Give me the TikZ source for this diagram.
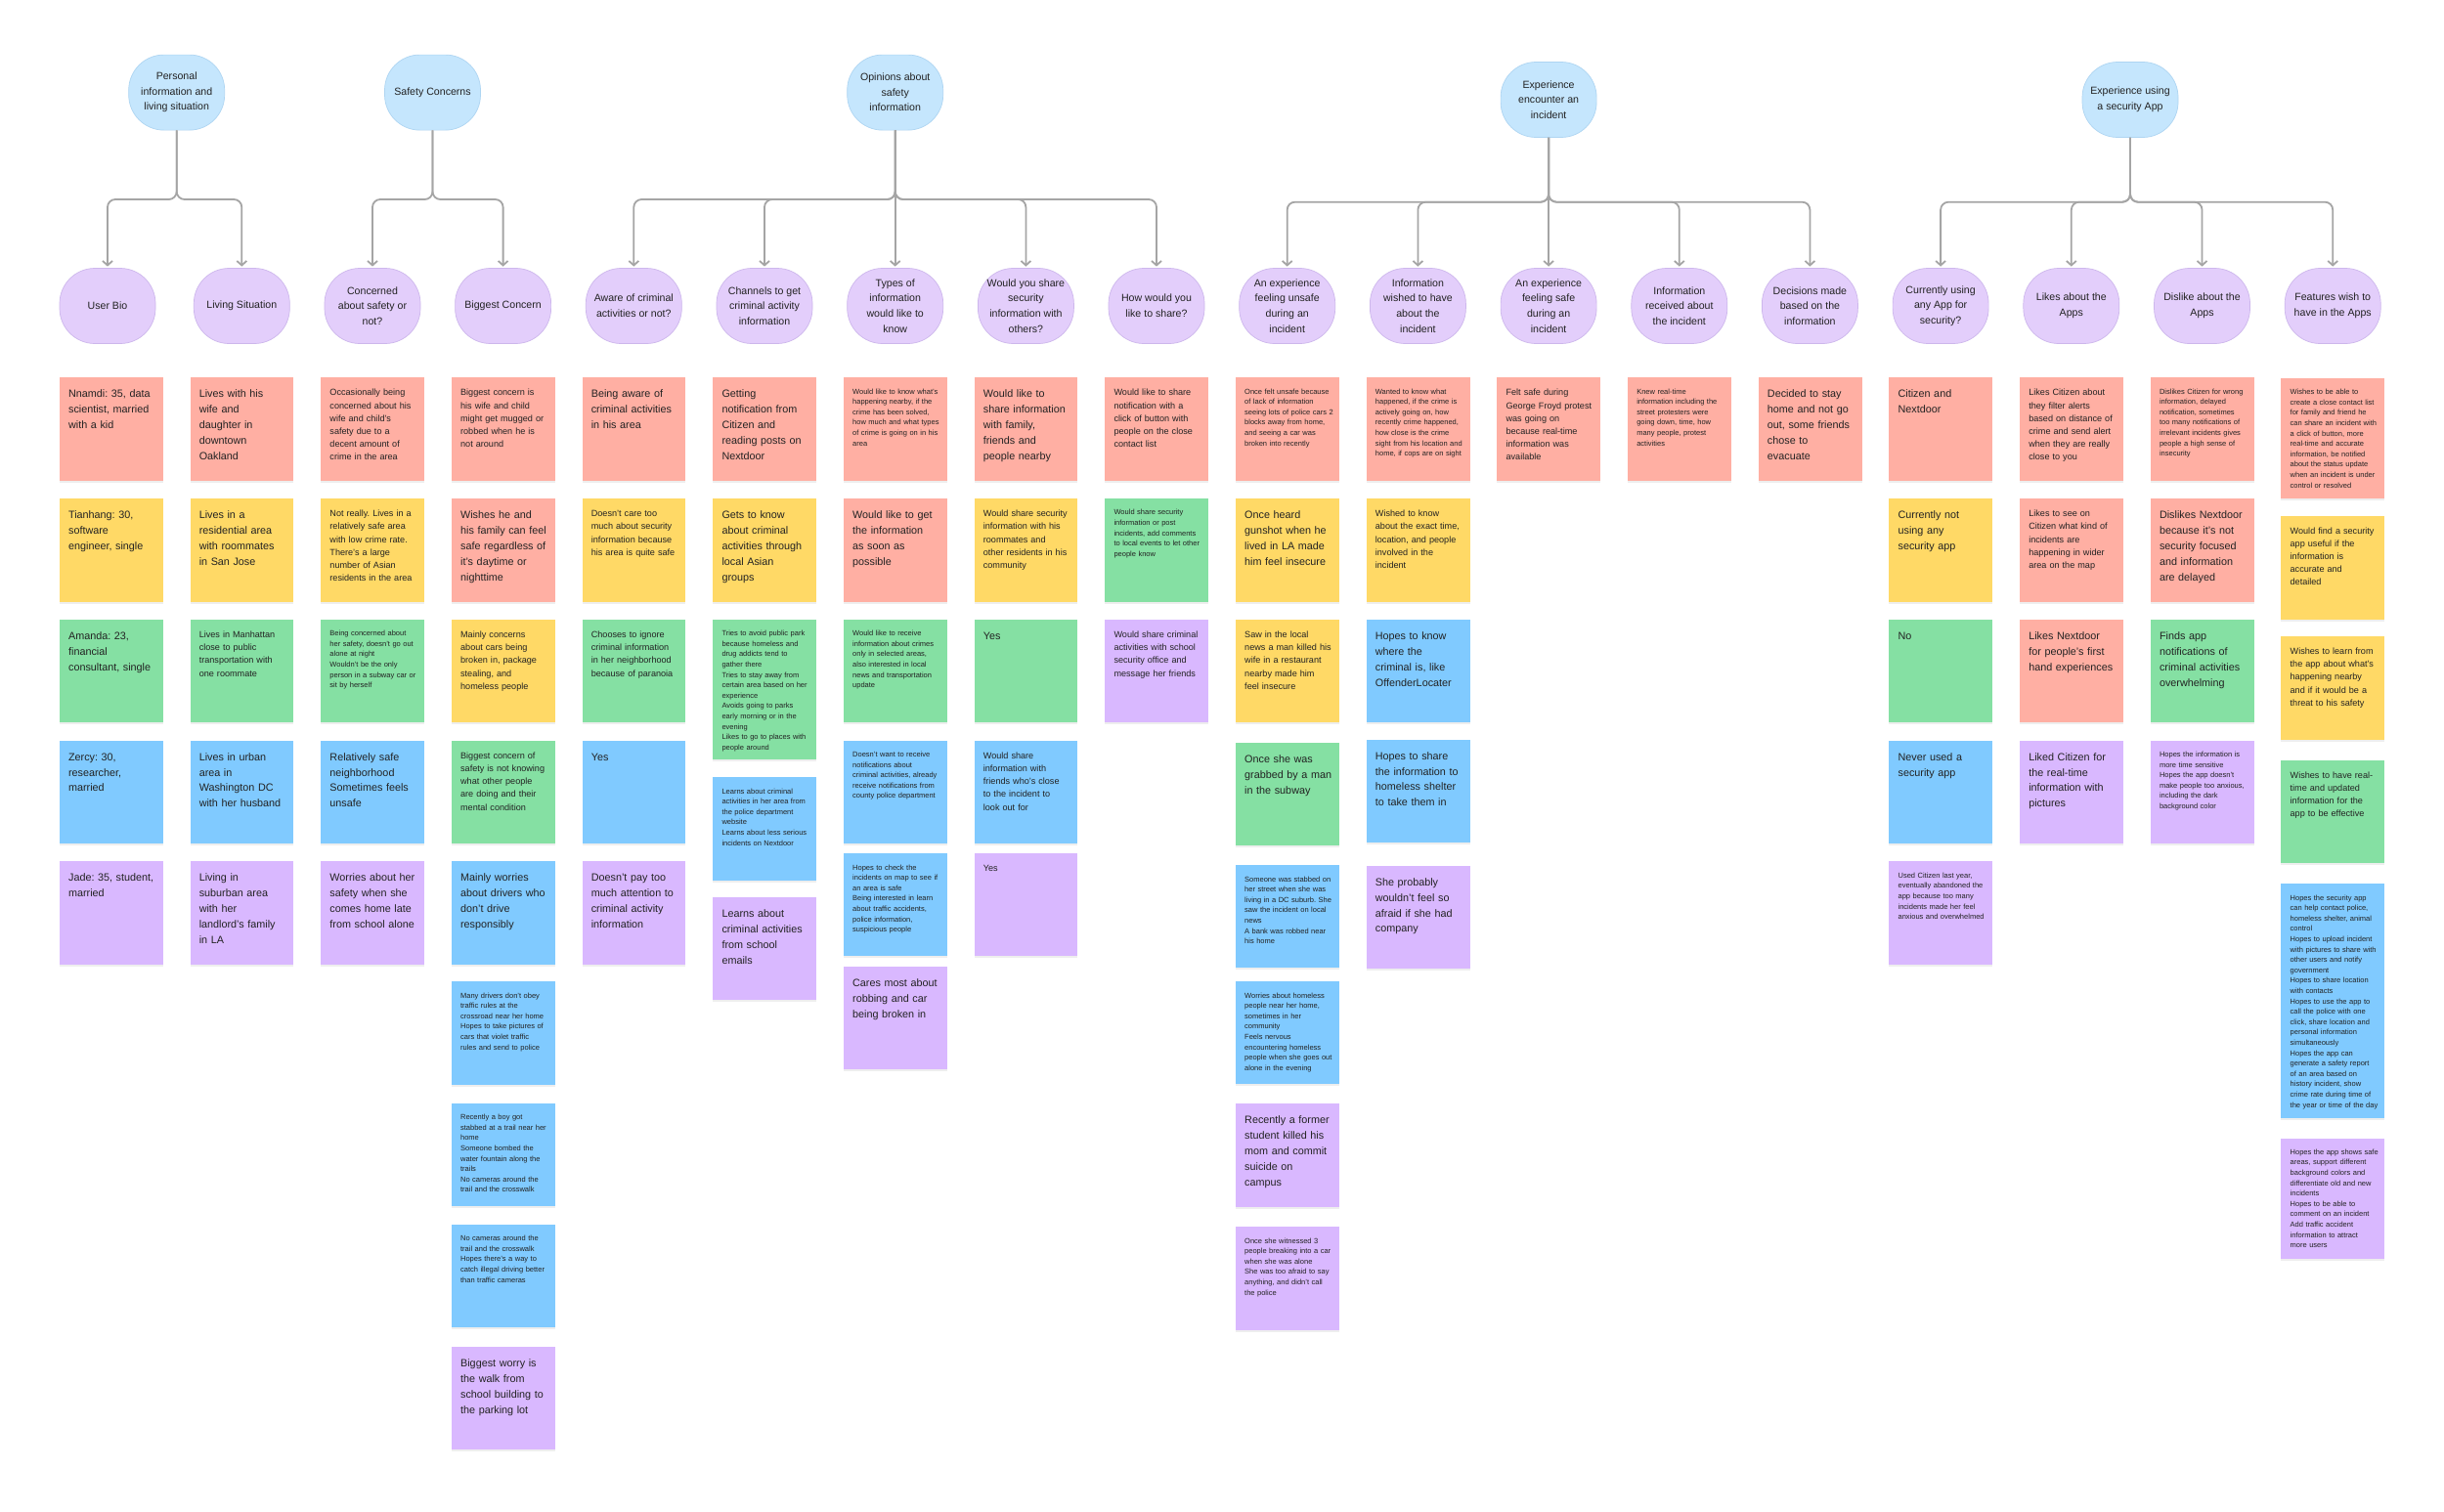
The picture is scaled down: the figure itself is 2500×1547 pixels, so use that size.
\documentclass[tikz,border=0pt]{standalone}
\usepackage{fontspec}
\setmainfont{Liberation Sans}
\frenchspacing
\usetikzlibrary{arrows.meta,shadows,calc}
\definecolor{cR}{HTML}{FFAFA3}
\definecolor{cY}{HTML}{FFD966}
\definecolor{cG}{HTML}{85E0A3}
\definecolor{cB}{HTML}{80CAFF}
\definecolor{cP}{HTML}{D9B8FF}
\definecolor{ovB}{HTML}{C5E6FD}
\definecolor{ovBd}{HTML}{AED5F2}
\definecolor{ovP}{HTML}{E3CEFB}
\definecolor{ovPd}{HTML}{CDB7EC}
\definecolor{ink}{HTML}{222222}
\definecolor{lineC}{HTML}{A5A5A5}
\newcommand\ovfont{\fontsize{10.6}{15.6}\selectfont}
\tikzset{
  sticky/.style={rectangle, anchor=north west, minimum width=105.8pt, inner sep=0pt, draw=none,
    drop shadow={shadow xshift=0pt, shadow yshift=-2pt, opacity=0.13}},
  stBase/.style={anchor=north west, inner sep=0pt, text width=96pt, align=left, text=ink},
  stL/.style={stBase, font=\fontsize{10.8}{15.9}\selectfont},
  stM/.style={stBase, font=\fontsize{9.1}{13.2}\selectfont},
  stS/.style={stBase, font=\fontsize{7.5}{10.6}\selectfont},
  topoval/.style={rectangle, rounded corners=36pt, minimum width=98pt, minimum height=77pt,
    inner sep=0pt, fill=ovB, draw=ovBd, line width=0.7pt, align=center, font=\ovfont, text=ink},
  suboval/.style={topoval, fill=ovP, draw=ovPd},
  conn/.style={draw=lineC, line width=1.8pt, rounded corners=8pt,
    -{Straight Barb[length=4.5pt,width=10pt]}, shorten >=1.5pt},
}
% #1 name, #2 column, #3 top, #4 height, #5 colour, #6 text size style, #7 text
\newcommand\stk[7]{%
  \node[sticky, fill=#5, minimum height=#4] (#1) at ({60.7+(#2-1)*133.68},#3) {};
  \node[#6] (#1t) at ([xshift=9.2pt,yshift=-9.4pt]#1.north west) {\strut #7};
}
\begin{document}
\begin{tikzpicture}[x=1pt,y=-1pt]
\useasboundingbox (0,0) rectangle (2500,1547);
\fill[white] (0,0) rectangle (2500,1547);

% ---------- top level ----------
\node[topoval] (B1) at (180.7,94.6) {Personal\\information and\\living situation};
\node[topoval] (B2) at (442.5,94.6) {Safety Concerns};
\node[topoval] (B3) at (915.7,94.6) {Opinions about\\safety\\information};
\node[topoval] (B4) at (1584.1,102) {Experience\\encounter an\\incident};
\node[topoval] (B5) at (2179,102) {Experience using\\a security App};

% ---------- second level ----------
\node[suboval] (p1) at (110,313) {User Bio};
\node[suboval] (p2) at (247.3,313) {Living Situation};
\node[suboval] (p3) at (381.0,313) {Concerned\\about safety or\\not?};
\node[suboval] (p4) at (514.6,313) {Biggest Concern};
\node[suboval] (p5) at (648.3,313) {Aware of criminal\\activities or not?};
\node[suboval] (p6) at (782.0,313) {Channels to get\\criminal activity\\information};
\node[suboval] (p7) at (915.7,313) {Types of\\information\\would like to\\know};
\node[suboval] (p8) at (1049.4,313) {Would you share\\security\\information with\\others?};
\node[suboval] (p9) at (1183.0,313) {How would you\\like to share?};
\node[suboval] (p10) at (1316.7,313) {An experience\\feeling unsafe\\during an\\incident};
\node[suboval] (p11) at (1450.4,313) {Information\\wished to have\\about the\\incident};
\node[suboval] (p12) at (1584.1,313) {An experience\\feeling safe\\during an\\incident};
\node[suboval] (p13) at (1717.8,313) {Information\\received about\\the incident};
\node[suboval] (p14) at (1851.4,313) {Decisions made\\based on the\\information};
\node[suboval] (p15) at (1985.1,313) {Currently using\\any App for\\security?};
\node[suboval] (p16) at (2118.8,313) {Likes about the\\Apps};
\node[suboval] (p17) at (2252.5,313) {Dislike about the\\Apps};
\node[suboval] (p18) at (2386.2,313) {Features wish to\\have in the Apps};

% ---------- connectors ----------
\coordinate (barA) at (0,204);
\coordinate (barB) at (0,206.7);
\foreach \c in {p1,p2}{\draw[conn] (B1.south) -- (B1.south |- barA) -- (\c.north |- barA) -- (\c.north);}
\foreach \c in {p3,p4}{\draw[conn] (B2.south) -- (B2.south |- barA) -- (\c.north |- barA) -- (\c.north);}
\foreach \c in {p5,p6,p8,p9}{\draw[conn] (B3.south) -- (B3.south |- barA) -- (\c.north |- barA) -- (\c.north);}
\draw[conn] (B3.south) -- (p7.north);
\foreach \c in {p10,p11,p13,p14}{\draw[conn] (B4.south) -- (B4.south |- barB) -- (\c.north |- barB) -- (\c.north);}
\draw[conn] (B4.south) -- (p12.north);
\foreach \c in {p15,p16,p17,p18}{\draw[conn] (B5.south) -- (B5.south |- barB) -- (\c.north |- barB) -- (\c.north);}

% ---------- column 1: User Bio ----------
\stk{s1a}{1}{386}{105.5}{cR}{stL}{Nnamdi: 35, data\\scientist, married\\with a kid}
\stk{s1b}{1}{509.8}{105.5}{cY}{stL}{Tianhang: 30,\\software\\engineer, single}
\stk{s1c}{1}{633.6}{105.5}{cG}{stL}{Amanda: 23,\\financial\\consultant, single}
\stk{s1d}{1}{757.4}{105.5}{cB}{stL}{Zercy: 30,\\researcher,\\married}
\stk{s1e}{1}{881.2}{105.5}{cP}{stL}{Jade: 35, student,\\married}

% ---------- column 2: Living Situation ----------
\stk{s2a}{2}{386}{105.5}{cR}{stL}{Lives with his\\wife and\\daughter in\\downtown\\Oakland}
\stk{s2b}{2}{509.8}{105.5}{cY}{stL}{Lives in a\\residential area\\with roommates\\in San Jose}
\stk{s2c}{2}{633.6}{105.5}{cG}{stM}{Lives in Manhattan\\close to public\\transportation with\\one roommate}
\stk{s2d}{2}{757.4}{105.5}{cB}{stL}{Lives in urban\\area in\\Washington DC\\with her husband}
\stk{s2e}{2}{881.2}{105.5}{cP}{stL}{Living in\\suburban area\\with her\\landlord’s family\\in LA}

% ---------- column 3: Concerned about safety ----------
\stk{s3a}{3}{386}{105.5}{cR}{stM}{Occasionally being\\concerned about his\\wife and child’s\\safety due to a\\decent amount of\\crime in the area}
\stk{s3b}{3}{509.8}{105.5}{cY}{stM}{Not really. Lives in a\\relatively safe area\\with low crime rate.\\There’s a large\\number of Asian\\residents in the area}
\stk{s3c}{3}{633.6}{105.5}{cG}{stS}{Being concerned about\\her safety, doesn’t go out\\alone at night\\Wouldn’t be the only\\person in a subway car or\\sit by herself}
\stk{s3d}{3}{757.4}{105.5}{cB}{stL}{Relatively safe\\neighborhood\\Sometimes feels\\unsafe}
\stk{s3e}{3}{881.2}{105.5}{cP}{stL}{Worries about her\\safety when she\\comes home late\\from school alone}

% ---------- column 4: Biggest Concern ----------
\stk{s4a}{4}{386}{105.5}{cR}{stM}{Biggest concern is\\his wife and child\\might get mugged or\\robbed when he is\\not around}
\stk{s4b}{4}{509.8}{105.5}{cR}{stL}{Wishes he and\\his family can feel\\safe regardless of\\it’s daytime or\\nighttime}
\stk{s4c}{4}{633.6}{105.5}{cY}{stM}{Mainly concerns\\about cars being\\broken in, package\\stealing, and\\homeless people}
\stk{s4d}{4}{757.4}{105.5}{cG}{stM}{Biggest concern of\\safety is not knowing\\what other people\\are doing and their\\mental condition}
\stk{s4e}{4}{881.2}{105.5}{cB}{stL}{Mainly worries\\about drivers who\\don’t drive\\responsibly}
\stk{s4f}{4}{1004}{105.5}{cB}{stS}{Many drivers don’t obey\\traffic rules at the\\crossroad near her home\\Hopes to take pictures of\\cars that violet traffic\\rules and send to police}
\stk{s4g}{4}{1128.7}{105.5}{cB}{stS}{Recently a boy got\\stabbed at a trail near her\\home\\Someone bombed the\\water fountain along the\\trails\\No cameras around the\\trail and the crosswalk}
\stk{s4h}{4}{1252.7}{105.5}{cB}{stS}{No cameras around the\\trail and the crosswalk\\Hopes there’s a way to\\catch illegal driving better\\than traffic cameras}
\stk{s4i}{4}{1377.7}{105.5}{cP}{stL}{Biggest worry is\\the walk from\\school building to\\the parking lot}

% ---------- column 5: Aware ----------
\stk{s5a}{5}{386}{105.5}{cR}{stL}{Being aware of\\criminal activities\\in his area}
\stk{s5b}{5}{509.8}{105.5}{cY}{stM}{Doesn’t care too\\much about security\\information because\\his area is quite safe}
\stk{s5c}{5}{633.6}{105.5}{cG}{stM}{Chooses to ignore\\criminal information\\in her neighborhood\\because of paranoia}
\stk{s5d}{5}{757.4}{105.5}{cB}{stL}{Yes}
\stk{s5e}{5}{881.2}{105.5}{cP}{stL}{Doesn’t pay too\\much attention to\\criminal activity\\information}

% ---------- column 6: Channels ----------
\stk{s6a}{6}{386}{105.5}{cR}{stL}{Getting\\notification from\\Citizen and\\reading posts on\\Nextdoor}
\stk{s6b}{6}{509.8}{105.5}{cY}{stL}{Gets to know\\about criminal\\activities through\\local Asian\\groups}
\stk{s6c}{6}{633.6}{143.4}{cG}{stS}{Tries to avoid public park\\because homeless and\\drug addicts tend to\\gather there\\Tries to stay away from\\certain area based on her\\experience\\Avoids going to parks\\early morning or in the\\evening\\Likes to go to places with\\people around}
\stk{s6d}{6}{795}{105.5}{cB}{stS}{Learns about criminal\\activities in her area from\\the police department\\website\\Learns about less serious\\incidents on Nextdoor}
\stk{s6e}{6}{918.2}{105}{cP}{stL}{Learns about\\criminal activities\\from school\\emails}

% ---------- column 7: Types of information ----------
\stk{s7a}{7}{386}{105.5}{cR}{stS}{Would like to know what’s\\happening nearby, if the\\crime has been solved,\\how much and what types\\of crime is going on in his\\area}
\stk{s7b}{7}{509.8}{105.5}{cR}{stL}{Would like to get\\the information\\as soon as\\possible}
\stk{s7c}{7}{633.6}{105.5}{cG}{stS}{Would like to receive\\information about crimes\\only in selected areas,\\also interested in local\\news and transportation\\update}
\stk{s7d}{7}{757.4}{105.5}{cB}{stS}{Doesn’t want to receive\\notifications about\\criminal activities, already\\receive notifications from\\county police department}
\stk{s7e}{7}{873}{104.5}{cB}{stS}{Hopes to check the\\incidents on map to see if\\an area is safe\\Being interested in learn\\about traffic accidents,\\police information,\\suspicious people}
\stk{s7f}{7}{989.2}{105}{cP}{stL}{Cares most about\\robbing and car\\being broken in}

% ---------- column 8: Would you share ----------
\stk{s8a}{8}{386}{105.5}{cR}{stL}{Would like to\\share information\\with family,\\friends and\\people nearby}
\stk{s8b}{8}{509.8}{105.5}{cY}{stM}{Would share security\\information with his\\roommates and\\other residents in his\\community}
\stk{s8c}{8}{633.6}{105.5}{cG}{stL}{Yes}
\stk{s8d}{8}{757.4}{105.5}{cB}{stM}{Would share\\information with\\friends who’s close\\to the incident to\\look out for}
\stk{s8e}{8}{873}{104.5}{cP}{stM}{Yes}

% ---------- column 9: How would you like to share ----------
\stk{s9a}{9}{386}{105.5}{cR}{stM}{Would like to share\\notification with a\\click of button with\\people on the close\\contact list}
\stk{s9b}{9}{509.8}{105.5}{cG}{stS}{Would share security\\information or post\\incidents, add comments\\to local events to let other\\people know}
\stk{s9c}{9}{633.6}{105.5}{cP}{stM}{Would share criminal\\activities with school\\security office and\\message her friends}

% ---------- column 10: feeling unsafe ----------
\stk{s10a}{10}{386}{105.5}{cR}{stS}{Once felt unsafe because\\of lack of information\\seeing lots of police cars 2\\blocks away from home,\\and seeing a car was\\broken into recently}
\stk{s10b}{10}{509.8}{105.5}{cY}{stL}{Once heard\\gunshot when he\\lived in LA made\\him feel insecure}
\stk{s10c}{10}{633.6}{105.5}{cY}{stM}{Saw in the local\\news a man killed his\\wife in a restaurant\\nearby made him\\feel insecure}
\stk{s10d}{10}{759.5}{105}{cG}{stL}{Once she was\\grabbed by a man\\in the subway}
\stk{s10e}{10}{885}{105}{cB}{stS}{Someone was stabbed on\\her street when she was\\living in a DC suburb. She\\saw the incident on local\\news\\A bank was robbed near\\his home}
\stk{s10f}{10}{1004}{105}{cB}{stS}{Worries about homeless\\people near her home,\\sometimes in her\\community\\Feels nervous\\encountering homeless\\people when she goes out\\alone in the evening}
\stk{s10g}{10}{1129}{105.3}{cP}{stL}{Recently a former\\student killed his\\mom and commit\\suicide on\\campus}
\stk{s10h}{10}{1255}{105.3}{cP}{stS}{Once she witnessed 3\\people breaking into a car\\when she was alone\\She was too afraid to say\\anything, and didn’t call\\the police}

% ---------- column 11: information wished ----------
\stk{s11a}{11}{386}{105.5}{cR}{stS}{Wanted to know what\\happened, if the crime is\\actively going on, how\\recently crime happened,\\how close is the crime\\sight from his location and\\home, if cops are on sight}
\stk{s11b}{11}{509.8}{105.5}{cY}{stM}{Wished to know\\about the exact time,\\location, and people\\involved in the\\incident}
\stk{s11c}{11}{633.6}{105.5}{cB}{stL}{Hopes to know\\where the\\criminal is, like\\OffenderLocater}
\stk{s11d}{11}{756.4}{105.5}{cB}{stL}{Hopes to share\\the information to\\homeless shelter\\to take them in}
\stk{s11e}{11}{885.5}{105}{cP}{stL}{She probably\\wouldn’t feel so\\afraid if she had\\company}

% ---------- columns 12-14 ----------
\stk{s12a}{12}{386}{105.5}{cR}{stM}{Felt safe during\\George Froyd protest\\was going on\\because real-time\\information was\\available}
\stk{s13a}{13}{386}{105.5}{cR}{stS}{Knew real-time\\information including the\\street protesters were\\going down, time, how\\many people, protest\\activities}
\stk{s14a}{14}{386}{105.5}{cR}{stL}{Decided to stay\\home and not go\\out, some friends\\chose to\\evacuate}

% ---------- column 15: currently using ----------
\stk{s15a}{15}{386}{105.5}{cR}{stL}{Citizen and\\Nextdoor}
\stk{s15b}{15}{509.8}{105.5}{cY}{stL}{Currently not\\using any\\security app}
\stk{s15c}{15}{633.6}{105.5}{cG}{stL}{No}
\stk{s15d}{15}{757.4}{105.5}{cB}{stL}{Never used a\\security app}
\stk{s15e}{15}{881.2}{105.5}{cP}{stS}{Used Citizen last year,\\eventually abandoned the\\app because too many\\incidents made her feel\\anxious and overwhelmed}

% ---------- column 16: likes ----------
\stk{s16a}{16}{386}{105.5}{cR}{stM}{Likes Citizen about\\they filter alerts\\based on distance of\\crime and send alert\\when they are really\\close to you}
\stk{s16b}{16}{509.8}{105.5}{cR}{stM}{Likes to see on\\Citizen what kind of\\incidents are\\happening in wider\\area on the map}
\stk{s16c}{16}{633.6}{105.5}{cR}{stL}{Likes Nextdoor\\for people’s first\\hand experiences}
\stk{s16d}{16}{757.4}{105.5}{cP}{stL}{Liked Citizen for\\the real-time\\information with\\pictures}

% ---------- column 17: dislikes ----------
\stk{s17a}{17}{386}{105.5}{cR}{stS}{Dislikes Citizen for wrong\\information, delayed\\notification, sometimes\\too many notifications of\\irrelevant incidents gives\\people a high sense of\\insecurity}
\stk{s17b}{17}{509.8}{105.5}{cR}{stL}{Dislikes Nextdoor\\because it’s not\\security focused\\and information\\are delayed}
\stk{s17c}{17}{633.6}{105.5}{cG}{stL}{Finds app\\notifications of\\criminal activities\\overwhelming}
\stk{s17d}{17}{757.4}{105.5}{cP}{stS}{Hopes the information is\\more time sensitive\\Hopes the app doesn’t\\make people too anxious,\\including the dark\\background color}

% ---------- column 18: features ----------
\stk{s18a}{18}{386.7}{123.3}{cR}{stS}{Wishes to be able to\\create a close contact list\\for family and friend he\\can share an incident with\\a click of button, more\\real-time and accurate\\information, be notified\\about the status update\\when an incident is under\\control or resolved}
\stk{s18b}{18}{527.3}{106}{cY}{stM}{Would find a security\\app useful if the\\information is\\accurate and\\detailed}
\stk{s18c}{18}{650.7}{106}{cY}{stM}{Wishes to learn from\\the app about what’s\\happening nearby\\and if it would be a\\threat to his safety}
\stk{s18d}{18}{777.3}{105.4}{cG}{stM}{Wishes to have real-\\time and updated\\information for the\\app to be effective}
\stk{s18e}{18}{904}{239.3}{cB}{stS}{Hopes the security app\\can help contact police,\\homeless shelter, animal\\control\\Hopes to upload incident\\with pictures to share with\\other users and notify\\government\\Hopes to share location\\with contacts\\Hopes to use the app to\\call the police with one\\click, share location and\\personal information\\simultaneously\\Hopes the app can\\generate a safety report\\of an area based on\\history incident, show\\crime rate during time of\\the year or time of the day}
\stk{s18f}{18}{1164.3}{123}{cP}{stS}{Hopes the app shows safe\\areas, support different\\background colors and\\differentiate old and new\\incidents\\Hopes to be able to\\comment on an incident\\Add traffic accident\\information to attract\\more users}
\end{tikzpicture}
\end{document}
